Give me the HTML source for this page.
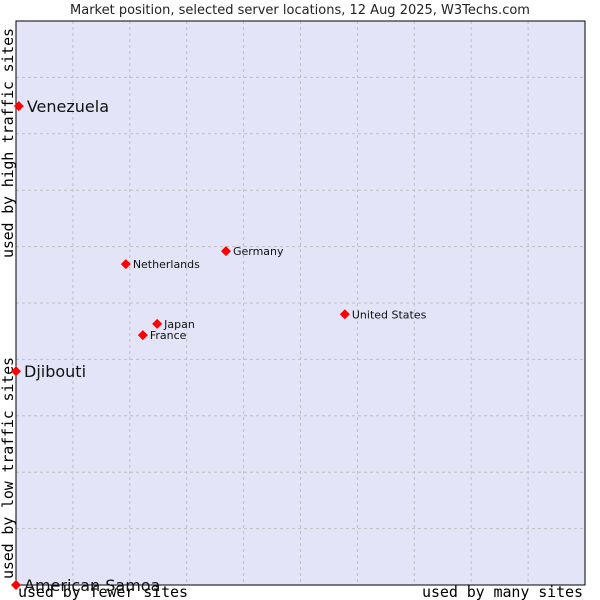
<!DOCTYPE html>
<html><head><meta charset="utf-8"><style>
body{margin:0;background:#fff;}
svg{display:block;font-family:"DejaVu Sans","Liberation Sans",sans-serif;}
</style></head><body>
<svg id="chart" width="600" height="600">
<text x="300" y="14" text-anchor="middle" font-size="13" fill="#222">Market position, selected server locations, 12 Aug 2025, W3Techs.com</text>
<rect x="16" y="21" width="569" height="564" fill="#e3e4f8"/>
<g id="grid"></g>
<rect x="16" y="21" width="569" height="564" fill="none" stroke="#000" stroke-width="1"/>
<text transform="translate(13,143) rotate(-90)" text-anchor="middle" font-family="DejaVu Sans Mono,Liberation Mono,monospace" font-size="15" fill="#000" textLength="230">used by high traffic sites</text>
<text transform="translate(13,468) rotate(-90)" text-anchor="middle" font-family="DejaVu Sans Mono,Liberation Mono,monospace" font-size="15" fill="#000" textLength="222">used by low traffic sites</text>
<text x="18" y="597" font-family="DejaVu Sans Mono,Liberation Mono,monospace" font-size="15" fill="#000" textLength="170">used by fewer sites</text>
<text x="422" y="597" font-family="DejaVu Sans Mono,Liberation Mono,monospace" font-size="15" fill="#000" textLength="161">used by many sites</text>
<g id="points"></g>
</svg>
<script>
const names = ["Venezuela","Djibouti","American Samoa","Netherlands","Germany","United States","Japan","France"];
const xVals = [0.5, 0, 0, 19.3, 36.9, 57.8, 24.8, 22.3];
const yVals = [84.9, 37.9, 0, 56.9, 59.2, 48.0, 46.3, 44.3];
const bigLabel = [true, true, true, false, false, false, false, false];
const NS = "http://www.w3.org/2000/svg";
const L=16,R=585,T=21,B=585;
const sx = v => L + v/100*(R-L);
const sy = v => B - v/100*(B-T);
const grid = document.getElementById('grid');
for (let i=1;i<10;i++){
  const l=document.createElementNS(NS,'line');
  
  
  const x=sx(i*10);
  l.setAttribute('x1',x);l.setAttribute('x2',x);l.setAttribute('y1',T);l.setAttribute('y2',B);
  l.setAttribute('stroke','#c0c0c0');l.setAttribute('stroke-dasharray','3,3');
  grid.appendChild(l);
  const h=document.createElementNS(NS,'line');
  
  
  const y=sy(i*10);
  h.setAttribute('x1',L);h.setAttribute('x2',R);h.setAttribute('y1',y);h.setAttribute('y2',y);
  h.setAttribute('stroke','#c0c0c0');h.setAttribute('stroke-dasharray','3,3');
  grid.appendChild(h);
}
const pts=document.getElementById('points');
names.forEach((n,i)=>{
  const x=sx(xVals[i]), y=sy(yVals[i]);
  const p=document.createElementNS(NS,'polygon');
  
  
  p.setAttribute('points',`${x},${y-5} ${x+5},${y} ${x},${y+5} ${x-5},${y}`);
  p.setAttribute('fill','#f00');
  pts.appendChild(p);
  const t=document.createElementNS(NS,'text');
  
  
  t.setAttribute('x',x+(bigLabel[i]?8:7));
  t.setAttribute('y',y+(bigLabel[i]?6:4));
  t.setAttribute('font-size',bigLabel[i]?16:11);
  t.setAttribute('fill','#111');
  t.textContent=n;
  pts.appendChild(t);
});
</script>
</body></html>
